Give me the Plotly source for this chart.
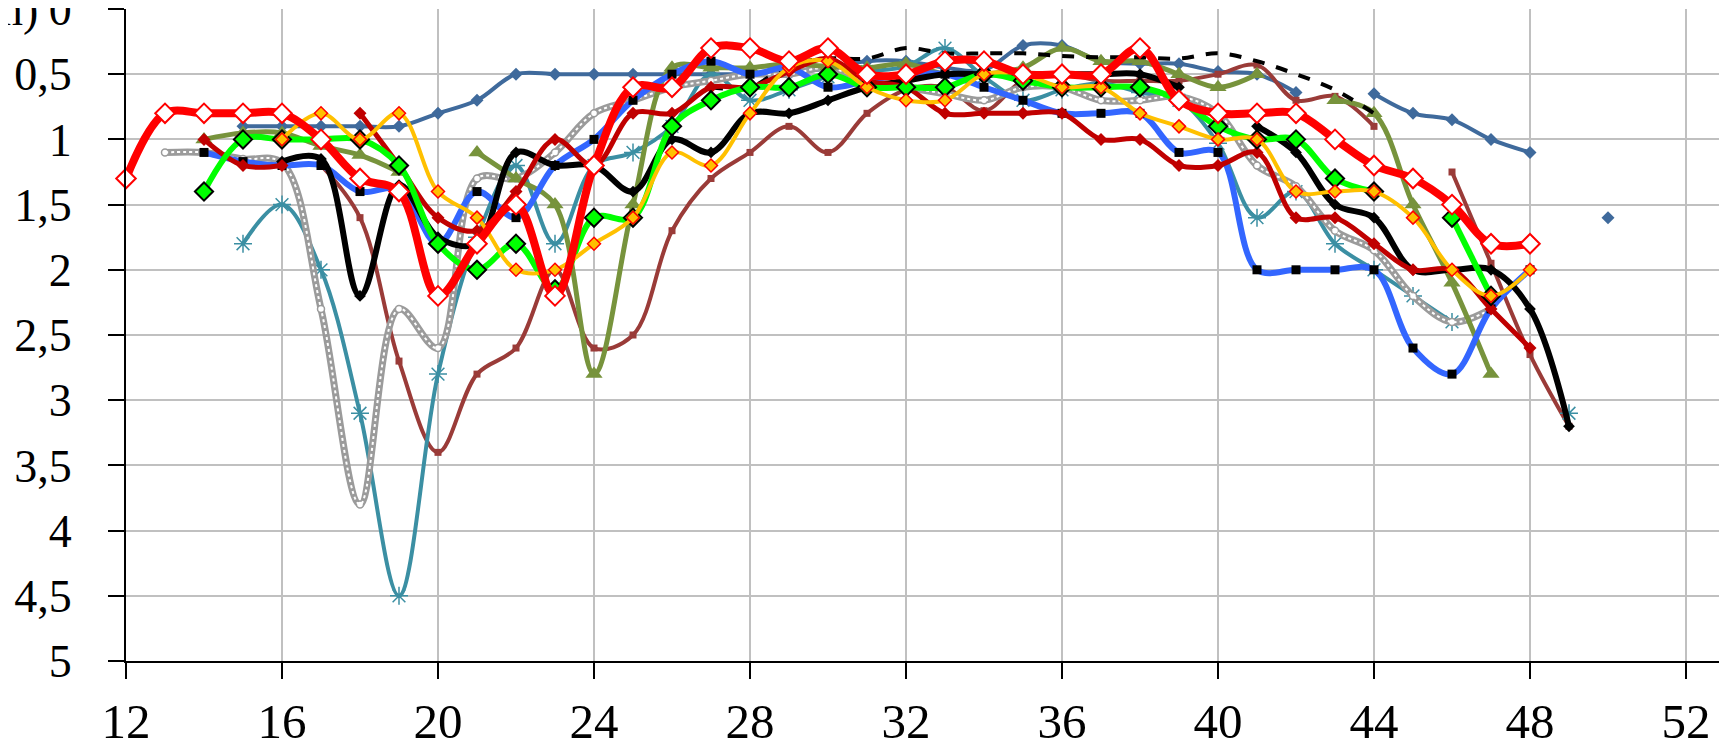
import plotly.graph_objects as go

N = None
weeks = list(range(12, 51))

steel = [N, N, N, 0.9, 0.9, 0.9, 0.9, 0.9, 0.8, 0.7, 0.5, 0.5, 0.5, 0.5, 0.5, 0.5, 0.5, 0.5, 0.45, 0.4,
         0.4, 0.45, 0.47, 0.28, 0.28, 0.4, 0.42, 0.42, 0.48, 0.5, 0.64, N, 0.65, 0.8, 0.85, 1.0, 1.1, N, 1.6]
brown = [N, N, N, N, N, 1.2, 1.6, 2.7, 3.4, 2.8, 2.6, 2.0, 2.6, 2.5, 1.7, 1.3, 1.1, 0.9, 1.1, 0.8,
         0.62, 0.6, 0.78, 0.55, 0.5, 0.55, 0.55, 0.55, 0.5, 0.43, 0.7, 0.67, 0.9, N, 1.25, 1.95, 2.65, 3.2, N]
teal = [N, N, N, 1.8, 1.5, 2.0, 3.1, 4.5, 2.8, 1.75, 1.2, 1.8, 1.2, 1.1, 0.9, 0.5, 0.7, 0.62, 0.52, 0.48,
        0.44, 0.3, 0.52, 0.7, 0.62, 0.57, 0.64, 0.7, 1.03, 1.6, 1.4, 1.8, 2.0, 2.2, 2.4, N, N, 3.1, N]
gray = [N, 1.1, 1.1, 1.15, 1.18, 2.3, 3.8, 2.3, 2.6, 1.3, 1.3, 1.1, 0.8, 0.7, 0.6, 0.55, 0.5, 0.5, 0.45, 0.55,
        0.6, 0.65, 0.7, 0.6, 0.6, 0.7, 0.7, 0.67, 0.8, 1.2, 1.36, 1.7, 1.85, 2.2, 2.4, 2.3, N, N, N]
olive = [N, N, 1.0, 0.95, 0.95, 1.05, 1.12, 1.25, N, 1.1, 1.3, 1.5, 2.8, 1.5, 0.45, 0.45, 0.45, 0.42, 0.44, 0.45,
         0.42, 0.5, 0.5, 0.45, 0.3, 0.4, 0.4, 0.5, 0.6, 0.5, N, 0.7, 0.8, 1.5, 2.1, 2.8, N, N, N]
dashed = [N, N, N, N, N, N, N, N, N, N, N, N, N, N, N, 0.6, 0.6, 0.43, 0.38, 0.38,
          0.3, 0.34, 0.34, 0.34, 0.36, 0.37, 0.37, 0.38, 0.34, 0.4, 0.5, 0.62, 0.8, N, N, N, N, N, N]
blue = [N, N, 1.1, 1.17, 1.2, 1.2, 1.4, 1.38, 1.8, 1.4, 1.6, 1.2, 1.0, 0.7, 0.5, 0.4, 0.5, 0.45, 0.6, 0.55,
        0.5, 0.5, 0.6, 0.7, 0.8, 0.8, 0.8, 1.1, 1.1, 2.0, 2.0, 2.0, 2.0, 2.6, 2.8, 2.3, 2.0, N, N]
black = [N, N, N, N, 1.17, 1.15, 2.2, 1.35, 1.75, 1.8, 1.1, 1.2, 1.2, 1.4, 1.0, 1.1, 0.8, 0.8, 0.7, 0.6,
         0.55, 0.5, 0.5, 0.5, 0.5, 0.5, 0.5, 0.6, N, 0.9, 1.1, 1.5, 1.6, 2.0, 2.0, 2.0, 2.3, 3.2, N]
darkred = [N, N, 1.0, 1.2, 1.2, N, 0.8, 1.2, 1.6, 1.7, 1.4, 1.0, 1.2, 0.8, 0.8, 0.6, 0.6, 0.48, 0.38, 0.55,
           0.6, 0.8, 0.8, 0.8, 0.8, 1.0, 1.0, 1.2, 1.2, 1.1, 1.6, 1.6, 1.8, 2.0, 2.0, 2.3, 2.6, N, N]
green = [N, N, 1.4, 1.0, 1.0, 1.0, 1.0, 1.2, 1.8, 2.0, 1.8, 2.15, 1.6, 1.6, 0.9, 0.7, 0.6, 0.6, 0.5, 0.6,
         0.6, 0.6, 0.5, 0.55, 0.6, 0.6, 0.6, 0.7, 0.9, 1.0, 1.0, 1.3, 1.4, N, 1.6, 2.2, N, N, N]
orange = [N, N, N, N, 1.0, 0.8, 1.0, 0.8, 1.4, 1.6, 2.0, 2.0, 1.8, 1.6, 1.1, 1.2, 0.8, 0.45, 0.4, 0.6,
          0.7, 0.7, 0.5, 0.5, 0.6, 0.6, 0.8, 0.9, 1.0, 1.0, 1.4, 1.4, 1.4, 1.6, 2.0, 2.2, 2.0, N, N]
red = [1.3, 0.8, 0.8, 0.8, 0.8, 1.0, 1.3, 1.4, 2.2, 1.8, 1.5, 2.2, 1.2, 0.6, 0.6, 0.3, 0.3, 0.4, 0.3, 0.5,
       0.5, 0.4, 0.4, 0.5, 0.5, 0.5, 0.3, 0.7, 0.8, 0.8, 0.8, 1.0, 1.2, 1.3, 1.5, 1.8, 1.8, N, N]

x_ticks = [12, 16, 20, 24, 28, 32, 36, 40, 44, 48, 52]
x_labels = ["12", "16", "20", "24", "28", "32", "36", "40", "44", "48", "52"]
y_ticks = [0, 0.5, 1, 1.5, 2, 2.5, 3, 3.5, 4, 4.5, 5]
y_labels = ["0", "0,5", "1", "1,5", "2", "2,5", "3", "3,5", "4", "4,5", "5"]

fig = go.Figure()


def add(y, color, width, symbol=None, msize=0, mfill=None, mline=None, mlw=0, dash="solid", mode="lines+markers"):
    marker = dict(symbol=symbol or "circle", size=msize, color=mfill or color,
                  line=dict(color=mline or color, width=mlw))
    fig.add_trace(go.Scatter(x=weeks, y=y, mode=mode, connectgaps=False,
                             line=dict(color=color, width=width, shape="spline", smoothing=1.0, dash=dash),
                             marker=marker, cliponaxis=False))


add(steel, "#3F6A9C", 4, "diamond", 10)
add(brown, "#9A3B38", 4, "square", 7)
add(teal, "#3B8FA3", 4, "asterisk-open", 15, mline="#3B8FA3", mlw=1.5)
add(gray, "#9B9B9B", 7, "circle", 7, mfill="white", mline="#9B9B9B", mlw=1.5)
add(gray, "white", 2, dash="dot", mode="lines")
add(olive, "#77933C", 5, "triangle-up", 15)
add(dashed, "black", 4, dash="dash", mode="lines")
add(blue, "#3366FF", 6, "square", 9, mfill="black", mline="black", mlw=0)
add(black, "black", 6, "diamond", 9)
add(darkred, "#C00000", 5, "diamond", 10)
add(green, "#00FF00", 6, "diamond", 14, mfill="#00FF00", mline="black", mlw=2)
add(orange, "#FFC000", 4, "diamond", 10, mfill="#FFC000", mline="#FF0000", mlw=1.5)
add(red, "#FF0000", 8, "diamond", 15, mfill="white", mline="#FF0000", mlw=2)

xfont = dict(family="Liberation Serif, Times New Roman, serif", size=49, color="black")
yfont = dict(family="Liberation Serif, Times New Roman, serif", size=46, color="black")

# the page body has an 8px margin, so the figure is sized/offset to compensate
fig.update_layout(
    width=1719, height=739,
    margin=dict(l=118, r=2, t=1, b=86, pad=0),
    plot_bgcolor="white", paper_bgcolor="white",
    showlegend=False,
    font=xfont,
    xaxis=dict(range=[12, 53], tickvals=x_ticks, ticktext=x_labels, automargin=False,
               showgrid=True, gridcolor="#C0C0C0", gridwidth=2,
               showline=True, linecolor="black", linewidth=2,
               ticks="outside", ticklen=16, tickwidth=2, tickcolor="black",
               zeroline=False, tickfont=xfont, ticklabelstandoff=0, ticklabeloverflow="allow"),
    yaxis=dict(range=[5, 0], tickvals=y_ticks, ticktext=y_labels, automargin=False,
               showgrid=True, gridcolor="#C0C0C0", gridwidth=2,
               showline=True, linecolor="black", linewidth=2,
               ticks="outside", ticklen=16, tickwidth=2, tickcolor="black",
               zeroline=False, tickfont=yfont, ticklabelstandoff=27, ticklabeloverflow="allow"),
    shapes=[dict(type="line", xref="paper", yref="paper", x0=1, x1=1, y0=0, y1=1,
                 line=dict(color="#C0C0C0", width=2))],
    annotations=[dict(text="(m)", xref="paper", yref="y", x=-86 / 1599, y=0,
                      xanchor="right", yanchor="middle", showarrow=False, font=yfont)],
)

fig.write_html("out.html")
